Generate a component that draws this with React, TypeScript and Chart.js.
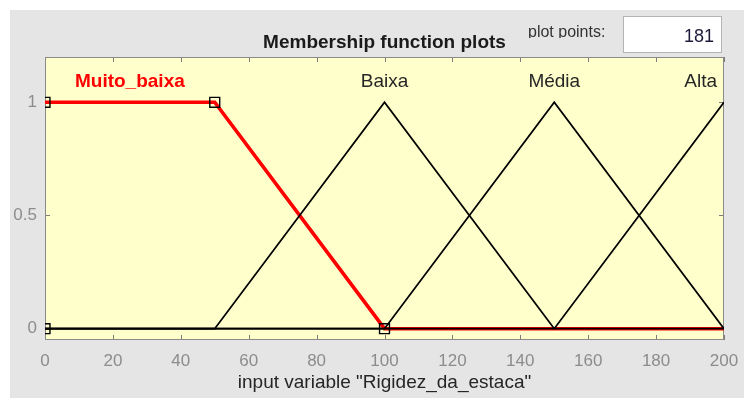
import React, { useEffect, useRef } from "react";
import { Chart, registerables } from "chart.js";

Chart.register(...registerables);

// Universe of discourse and axis ticks
const xRange = [0, 200];
const xStep = 20;
const yTicks = [0, 0.5, 1];

// Membership functions of "Rigidez_da_estaca"
const mfNames = ["Muito_baixa", "Baixa", "Média", "Alta"];
const muitoBaixaX = [0, 50, 100, 200];
const muitoBaixaY = [1, 1, 0, 0];
const baixaX = [0, 50, 100, 150, 200];
const baixaY = [0, 0, 1, 0, 0];
const mediaX = [0, 100, 150, 200];
const mediaY = [0, 0, 1, 0];
const altaX = [0, 150, 200];
const altaY = [0, 0, 1];

// Where each name is written (x in input units)
const labelX = [25, 100, 150, 200];

// Edit handles of the selected function
const handleX = [0, 0, 50, 100];
const handleY = [1, 0, 1, 0];

const plotPoints = 181;
const chartTitle = "Membership function plots";
const xTitle = 'input variable "Rigidez_da_estaca"';

const FONT = "'Liberation Sans', Arial, Helvetica, sans-serif";

const pts = (xs: number[], ys: number[]) => xs.map((x, i) => ({ x, y: ys[i] }));

const framePlugin = {
  id: "mfFrame",
  beforeDraw(chart: any) {
    const { ctx, chartArea: a, width, height } = chart;
    ctx.save();
    ctx.fillStyle = "#ffffff";
    ctx.fillRect(0, 0, width, height);
    ctx.fillStyle = "#e5e5e5";
    ctx.fillRect(10, 10, width - 10, height - 10);
    ctx.fillStyle = "#ffffcc";
    ctx.fillRect(a.left, a.top, a.right - a.left, a.bottom - a.top);

    // heading
    ctx.fillStyle = "#1a1a1a";
    ctx.font = `bold 19px ${FONT}`;
    ctx.textAlign = "center";
    ctx.textBaseline = "alphabetic";
    ctx.fillText(chartTitle, (a.left + a.right) / 2, 47.5);

    // plot points field
    ctx.save();
    ctx.beginPath();
    ctx.rect(515, 10, 105, 28);
    ctx.clip();
    ctx.fillStyle = "#333333";
    ctx.font = `16px ${FONT}`;
    ctx.textAlign = "left";
    ctx.fillText("plot points:", 528, 37);
    ctx.restore();

    ctx.fillStyle = "#ffffff";
    ctx.fillRect(623, 16, 99, 37);
    ctx.strokeStyle = "#b4b4b4";
    ctx.lineWidth = 1;
    ctx.strokeRect(623.5, 16.5, 98, 36);
    ctx.fillStyle = "#1c1c3a";
    ctx.font = `18px ${FONT}`;
    ctx.textAlign = "right";
    ctx.fillText(String(plotPoints), 714, 42);
    ctx.restore();
  },
  beforeDatasetsDraw(chart: any) {
    const { ctx, chartArea: a, scales } = chart;
    const xs = scales.x;
    const ys = scales.y;
    ctx.save();
    ctx.strokeStyle = "#7c7c7c";
    ctx.lineWidth = 1;
    ctx.beginPath();
    const tl = 5;
    for (let v = xRange[0]; v <= xRange[1]; v += xStep) {
      const px = Math.round(xs.getPixelForValue(v)) + 0.5;
      ctx.moveTo(px, a.bottom);
      ctx.lineTo(px, a.bottom - tl);
      ctx.moveTo(px, a.top);
      ctx.lineTo(px, a.top + tl);
    }
    for (const v of yTicks) {
      const py = Math.round(ys.getPixelForValue(v)) + 0.5;
      ctx.moveTo(a.left, py);
      ctx.lineTo(a.left + tl, py);
      ctx.moveTo(a.right, py);
      ctx.lineTo(a.right - tl, py);
    }
    ctx.stroke();
    ctx.strokeStyle = "#8a8a8a";
    ctx.strokeRect(a.left + 0.5, a.top + 0.5, a.right - a.left - 1, a.bottom - a.top - 1);
    ctx.restore();
  },
  afterDatasetsDraw(chart: any) {
    const { ctx, chartArea: a, scales } = chart;
    const xs = scales.x;
    const ys = scales.y;
    ctx.save();
    ctx.textAlign = "center";
    ctx.textBaseline = "alphabetic";
    const baseY = ys.getPixelForValue(1.067);
    mfNames.forEach((name, i) => {
      const selected = i === 0;
      ctx.font = `${selected ? "bold " : ""}19px ${FONT}`;
      ctx.fillStyle = selected ? "#ff0000" : "#262626";
      const w = ctx.measureText(name).width;
      let cx = xs.getPixelForValue(labelX[i]);
      if (cx + w / 2 > a.right - 7) cx = a.right - 7 - w / 2;
      if (cx - w / 2 < a.left + 7) cx = a.left + 7 + w / 2;
      ctx.fillText(name, cx, baseY);
    });
    ctx.restore();
  },
};

export default function App() {
  const canvasRef = useRef<HTMLCanvasElement | null>(null);

  useEffect(() => {
    if (!canvasRef.current) return;
    const thin = {
      borderColor: "#000000",
      borderWidth: 1.8,
      pointRadius: 0,
      fill: false,
      tension: 0,
      order: 1,
    };
    const chart = new Chart(canvasRef.current, {
      type: "line",
      data: {
        datasets: [
          {
            label: "handles",
            type: "scatter",
            data: pts(handleX, handleY),
            pointStyle: "rect",
            pointRadius: 7,
            pointBorderColor: "#000000",
            pointBackgroundColor: "rgba(0,0,0,0)",
            pointBorderWidth: 1.4,
            showLine: false,
            clip: 0,
            order: 0,
          } as any,
          { label: mfNames[1], data: pts(baixaX, baixaY), ...thin },
          { label: mfNames[2], data: pts(mediaX, mediaY), ...thin },
          { label: mfNames[3], data: pts(altaX, altaY), ...thin },
          {
            label: mfNames[0],
            data: pts(muitoBaixaX, muitoBaixaY),
            borderColor: "#ff0000",
            borderWidth: 3.6,
            pointRadius: 0,
            fill: false,
            tension: 0,
            order: 2,
          },
        ],
      },
      options: {
        responsive: false,
        animation: false,
        devicePixelRatio: 1,
        layout: { padding: { left: 0, top: 57, right: 20, bottom: 0 } },
        plugins: {
          legend: { display: false },
          tooltip: { enabled: false },
          title: { display: false },
        },
        scales: {
          x: {
            type: "linear",
            min: xRange[0],
            max: xRange[1],
            border: { display: false },
            grid: { display: false, drawTicks: false },
            ticks: {
              stepSize: xStep,
              autoSkip: false,
              maxRotation: 0,
              padding: 11,
              color: "#8c8c8c",
              font: { family: FONT, size: 17 },
            },
            title: {
              display: true,
              text: xTitle,
              color: "#262626",
              font: { family: FONT, size: 19, lineHeight: 1.2 },
              padding: { top: 0, bottom: 4 },
            },
            afterFit: (s: any) => {
              s.height = 58;
              s.paddingLeft = 0;
              s.paddingRight = 0;
            },
          },
          y: {
            type: "linear",
            min: -0.05,
            max: 1.2,
            border: { display: false },
            grid: { display: false, drawTicks: false },
            afterBuildTicks: (s: any) => {
              s.ticks = yTicks.map((v) => ({ value: v }));
            },
            ticks: {
              padding: 8,
              color: "#8c8c8c",
              font: { family: FONT, size: 17 },
              callback: (v: any) => String(v),
            },
            afterFit: (s: any) => {
              s.width = 45;
              s.paddingTop = 0;
              s.paddingBottom = 0;
            },
          },
        },
      },
      plugins: [framePlugin],
    });
    return () => chart.destroy();
  }, []);

  return (
    <div style={{ position: "absolute", left: 0, top: 0, width: 744, height: 398 }}>
      <canvas ref={canvasRef} width={744} height={398} style={{ display: "block" }} />
    </div>
  );
}
